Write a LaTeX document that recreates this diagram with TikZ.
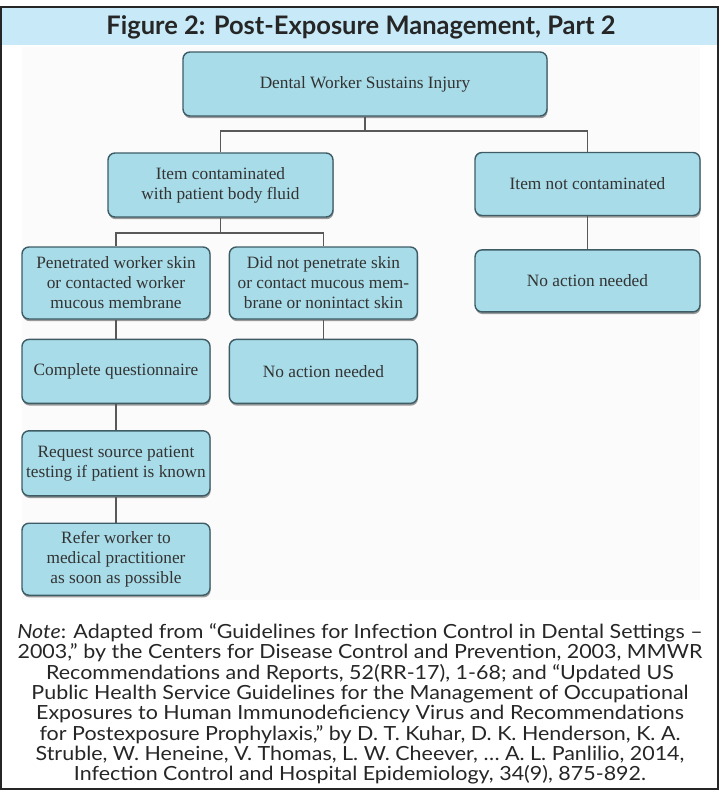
\documentclass[tikz,border=0pt]{standalone}
\usepackage{fontspec}
\setmainfont{Liberation Serif}
\setsansfont{Lato}
\newfontfamily\notefont{Lato}[FakeStretch=1.1]
\usetikzlibrary{positioning, shadows, calc}
\definecolor{bandblue}{RGB}{200,234,248}
\definecolor{boxblue}{RGB}{168,220,232}
\definecolor{boxedge}{RGB}{62,92,102}
\definecolor{panelgray}{RGB}{251,251,251}

\begin{document}
\begin{tikzpicture}[
    x=1pt, y=-1pt,
    node distance=19pt and 18pt,
    box/.style={rectangle, draw=boxedge, line width=1.4pt, rounded corners=7pt, fill=boxblue, align=center, text=black!80, font=\fontsize{17.3}{20}\selectfont, inner sep=2pt, drop shadow={shadow xshift=0.6pt, shadow yshift=-2.2pt, fill=black!65, opacity=0.6}},
    narrow/.style={box, minimum width=188pt},
    wide/.style={box, minimum width=225pt},
    link/.style={draw=black!65, line width=1.6pt}
]
\useasboundingbox (0,0) rectangle (719,790);

% Frame, title band and panel
\fill[panelgray] (22,47) rectangle (700,600);
\fill[bandblue] (2,8) rectangle (717,45);
\draw[black!85, line width=2pt] (1,7) rectangle (718,789);
\node[font=\sffamily\bfseries\fontsize{25.5}{28}\selectfont, text=black!85] (title) at (361,27) {Figure 2: Post-Exposure Management, Part 2};

% Root
\node[box, minimum width=364pt, minimum height=64pt] (injury) at (365,84) {Dental Worker Sustains Injury};

% Second level
\node[wide, minimum height=64pt] (contam) at (220.5,185) {Item contaminated\\with patient body fluid};
\node[wide, minimum height=63pt] (notcont) at (587.5,184) {Item not contaminated};
\node[wide, minimum height=62pt, below=33pt of notcont] (noactR) {No action needed};

% Contaminated branch
\node[narrow, minimum height=72pt] (pen) at (116,283) {Penetrated worker skin\\or contacted worker\\mucous membrane};
\node[narrow, minimum height=72pt, right=18pt of pen] (didnot) {Did not penetrate skin\\or contact mucous mem-\\brane or nonintact skin};
\node[narrow, minimum height=64pt, below=of pen] (quest) {Complete questionnaire};
\node[narrow, minimum height=64pt, below=of didnot] (noactM) {No action needed};
\node[narrow, minimum height=65pt, below=26pt of quest] (request) {Request source patient\\testing if patient is known};
\node[narrow, minimum height=72pt, below=26pt of request] (refer) {Refer worker to\\medical practitioner\\as soon as possible};

% Connectors
\coordinate (busA) at ($(injury.south)+(0,14)$);
\coordinate (busB) at ($(contam.south)+(0,15)$);
\draw[link] (injury.south) -- (busA) -| (contam.north);
\draw[link] (busA) -| (notcont.north);
\draw[link] (notcont) -- (noactR);
\draw[link] (contam.south) -- (busB) -| (pen.north);
\draw[link] (busB) -| (didnot.north);
\draw[link] (pen) -- (quest);
\draw[link] (quest) -- (request);
\draw[link] (request) -- (refer);
\draw[link] (didnot) -- (noactM);

% Note
\node[font=\notefont\fontsize{19.5}{20.3}\selectfont, align=center, text=black!85] (note) at (360,704) {\textit{Note}: Adapted from “Guidelines for Infection Control in Dental Settings –\\
2003,” by the Centers for Disease Control and Prevention, 2003, MMWR\\
Recommendations and Reports, 52(RR-17), 1-68; and “Updated US\\
Public Health Service Guidelines for the Management of Occupational\\
Exposures to Human Immunodeficiency Virus and Recommendations\\
for Postexposure Prophylaxis,” by D. T. Kuhar, D. K. Henderson, K. A.\\
Struble, W. Heneine, V. Thomas, L. W. Cheever, … A. L. Panlilio, 2014,\\
Infection Control and Hospital Epidemiology, 34(9), 875-892.};

\end{tikzpicture}
\end{document}
